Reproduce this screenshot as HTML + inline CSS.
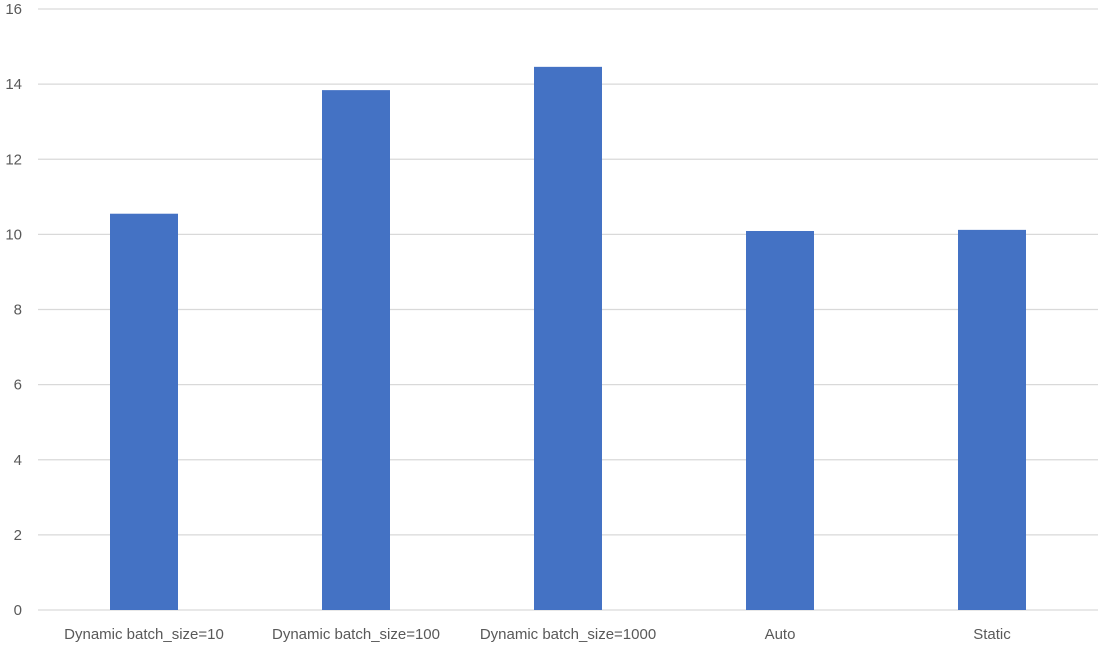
<!DOCTYPE html>
<html><head><meta charset="utf-8"><style>
body{margin:0;background:#fff}
svg{display:block;font-family:"Liberation Sans",sans-serif}
</style></head><body>
<svg id="chart" width="1112" height="648"></svg>
<script>
const categories = ["Dynamic batch_size=10","Dynamic batch_size=100","Dynamic batch_size=1000","Auto","Static"];
const values = [10.55, 13.84, 14.46, 10.09, 10.12];
const yTicks = [0,2,4,6,8,10,12,14,16];
const svg = document.getElementById('chart');
const NS = 'http://www.w3.org/2000/svg';
const L = 38, R = 1098, T = 9, B = 610, yMax = 16;
const y = v => B - (v / yMax) * (B - T);
const band = (R - L) / categories.length;
const x = i => L + band * (i + 0.5);
const bw = 68;
function mk(tag, attrs) { const e = document.createElementNS(NS, tag); for (const k in attrs) e.setAttribute(k, attrs[k]); svg.appendChild(e); return e; }
yTicks.forEach(t => {
  const g = mk('line', {x1: L, x2: R, y1: y(t), y2: y(t), stroke: '#d9d9d9', 'stroke-width': 1.3});
  
  
  const lb = mk('text', {x: 22, y: y(t) + 5, 'text-anchor': 'end', 'font-size': 15, fill: '#595959'});
  lb.textContent = t;
  
  
});
categories.forEach((c, i) => {
  const r = mk('rect', {x: x(i) - bw / 2, y: y(values[i]), width: bw, height: B - y(values[i]), fill: '#4472c4'});
  
  
  const lb = mk('text', {x: x(i), y: 639, 'text-anchor': 'middle', 'font-size': 15, fill: '#595959'});
  lb.textContent = c;
  
  
});
</script>
</body></html>
